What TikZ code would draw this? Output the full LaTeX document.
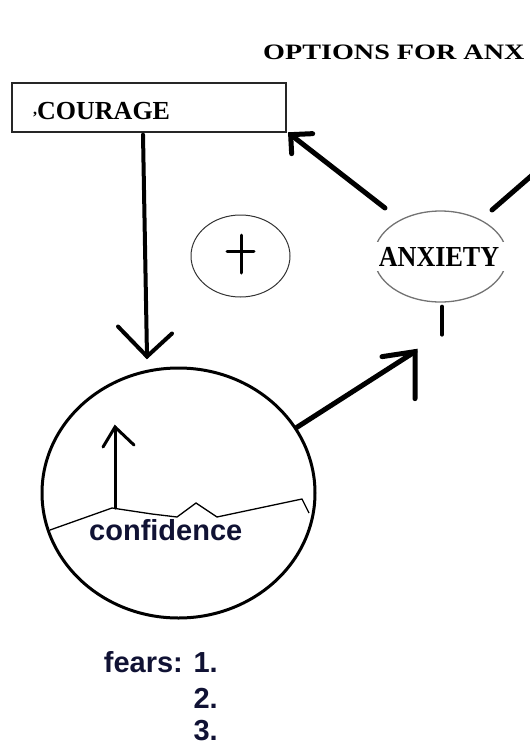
\documentclass[tikz,border=0pt]{standalone}
\usepackage{graphicx}
\usepackage{fontspec}
\setmainfont{Liberation Serif}
\newfontfamily\arialfont{Liberation Sans}
\usetikzlibrary{shapes.geometric,calc}
\definecolor{navy}{RGB}{16,18,52}
\tikzset{
  serifbold/.style={font=\fontsize{#1}{#1}\selectfont\bfseries, inner sep=0pt},
  sansbold/.style={font=\arialfont\fontsize{29}{29}\selectfont\bfseries, text=navy, inner sep=0pt},
  bigline/.style={line width=5pt, line cap=round, line join=miter},
  midline/.style={line width=4pt, line cap=round},
  smallline/.style={line width=3pt, line cap=round},
}
\begin{document}
\begin{tikzpicture}[x=1pt,y=-1pt]
\useasboundingbox (0,0) rectangle (530,745);

% title
\node[serifbold=22, anchor=base west] (title) at (263,59) {\scalebox{1.28}[1]{OPTIONS FOR ANX}};

% courage box
\node[draw=black!85, line width=1.3pt, minimum width=274pt, minimum height=49pt, inner sep=0pt] (cour) at (149,107.5) {};
\node[serifbold=26, anchor=base west] (courtext) at (33,119) {{\fontsize{16}{16}\selectfont\raisebox{5pt}{,}}COURAGE};

% plus ellipse
\node[draw=black!80, line width=1pt, ellipse, minimum width=99pt, minimum height=82pt, inner sep=0pt] (plus) at (240.5,256) {};
\draw[smallline] ($(plus.center)+(0.5,-21)$) -- ($(plus.center)+(0.5,17)$);
\draw[smallline] ($(plus.center)+(-13.5,-5)$) -- ($(plus.center)+(13.5,-5)$);

% anxiety ellipse
\node[draw=black!55, line width=1.3pt, ellipse, minimum width=133pt, minimum height=91pt, inner sep=0pt] (anx) at (440.5,256.5) {};
\node[fill=white, minimum width=140pt, minimum height=29pt, inner sep=0pt, font=\fontsize{29}{29}\selectfont\bfseries] (anxtext) at (439,256.5) {\scalebox{0.9}[1]{ANXIETY}};
\draw[midline] ($(anx.south)+(1.5,4)$) -- ++(0,28);

% confidence circle
\node[draw, line width=3pt, ellipse, minimum width=273pt, minimum height=250pt, inner sep=0pt] (circ) at (178.5,493) {};
\draw[line width=1.3pt, line join=miter] (50,530) -- (112,508) -- (152,514) -- (177,517) -- (196,503) -- (217,517) -- (302,499) -- (309,513);
\draw[smallline] (115,508) -- (115,427);
\draw[smallline] (103,447) -- (115,427) -- (134,445);
\node[sansbold, anchor=base west] (conf) at (89,540) {confidence};

% courage -> circle
\coordinate (d1) at ($(cour.south)+(-6,2)$);
\coordinate (d2) at ($(circ.north)+(-31.5,-10)$);
\draw[midline] (d1) -- (d2);
\draw[midline] (d2) ++(-29,-30) -- (d2) -- ++(25,-23);

% circle -> anxiety
\coordinate (c2) at ($(anx.south)+(-25.5,49)$);
\draw[bigline] (circ.29) -- (c2);
\draw[bigline] (c2) ++(-33,5) -- (c2) -- ++(0,47);

% anxiety -> courage
\coordinate (a1) at ($(anx.center)+(-55.5,-48.5)$);
\coordinate (a2) at ($(cour.south east)+(4,2)$);
\draw[bigline] (a1) -- (a2);
\draw[bigline] (a2) ++(22,-1) -- (a2) -- ++(1,19);

% anxiety -> off page
\coordinate (a3) at ($(anx.center)+(51.5,-46.5)$);
\coordinate (offpage) at (545,164);
\draw[bigline] (a3) -- (offpage);

% fears list
\node[sansbold, anchor=base east] (f1) at (218,672) {fears: 1.};
\node[sansbold, anchor=base east] (f2) at (218,708) {2.};
\node[sansbold, anchor=base east] (f3) at (218,740) {3.};
\end{tikzpicture}
\end{document}
